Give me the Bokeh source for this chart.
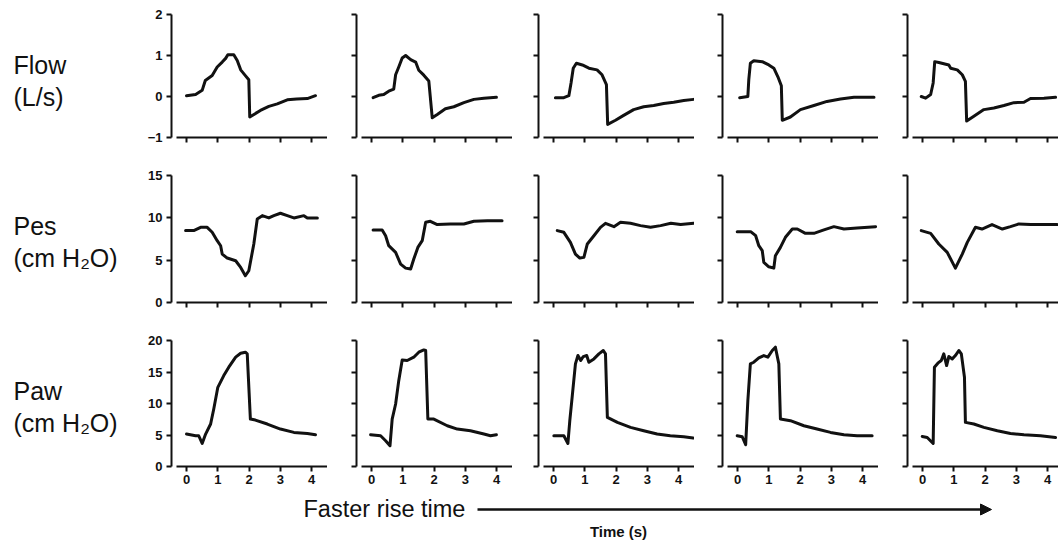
from bokeh.plotting import figure
from bokeh.layouts import row, column
from bokeh.models import Range1d, FixedTicker, Arrow, NormalHead, CustomJSTickFormatter
from bokeh.embed import file_html
from bokeh.resources import INLINE
from bokeh.core.properties import value

# ---------------- data ----------------
row_names = ["Flow", "Pes", "Paw"]
row_units = ["(L/s)", "(cm H\u2082O)", "(cm H\u2082O)"]
x_ticks = [0, 1, 2, 3, 4]
flow_ticks = [-1, 0, 1, 2]
pes_ticks = [0, 5, 10, 15]
paw_ticks = [0, 5, 10, 15, 20]

# Flow (L/s), five rise-time settings
flow1_t = [0, 0.29, 0.5, 0.6, 0.82, 0.98, 1.14, 1.25, 1.32, 1.51, 1.62, 1.73, 1.88, 1.99, 2.02, 2.36, 2.63, 2.9, 3.22, 3.52, 3.86, 4.12]
flow1_v = [0.02, 0.05, 0.15, 0.39, 0.51, 0.72, 0.84, 0.93, 1.02, 1.02, 0.88, 0.65, 0.51, 0.41, -0.5, -0.34, -0.24, -0.18, -0.08, -0.06, -0.05, 0.02]
flow2_t = [0.05, 0.23, 0.39, 0.55, 0.71, 0.77, 0.87, 0.98, 1.09, 1.25, 1.41, 1.51, 1.67, 1.83, 1.94, 2.1, 2.36, 2.63, 2.95, 3.27, 3.59, 3.99]
flow2_v = [-0.03, 0.03, 0.05, 0.13, 0.18, 0.53, 0.72, 0.94, 1.0, 0.9, 0.84, 0.64, 0.52, 0.38, -0.52, -0.44, -0.3, -0.25, -0.15, -0.07, -0.04, -0.02]
flow3_t = [0.06, 0.33, 0.49, 0.56, 0.63, 0.73, 0.92, 1.13, 1.39, 1.55, 1.69, 1.73, 1.98, 2.24, 2.56, 2.88, 3.2, 3.52, 3.84, 4.16, 4.48]
flow3_v = [-0.03, -0.03, 0.02, 0.33, 0.69, 0.81, 0.77, 0.69, 0.65, 0.53, 0.29, -0.68, -0.58, -0.46, -0.32, -0.25, -0.22, -0.17, -0.14, -0.1, -0.07]
flow4_t = [0.07, 0.33, 0.36, 0.41, 0.52, 0.79, 1.0, 1.16, 1.29, 1.4, 1.43, 1.69, 2.01, 2.44, 2.86, 3.29, 3.72, 4.36]
flow4_v = [-0.03, 0.0, 0.41, 0.81, 0.87, 0.85, 0.77, 0.69, 0.48, 0.26, -0.58, -0.5, -0.32, -0.22, -0.12, -0.06, -0.02, -0.02]
flow5_t = [-0.04, 0.1, 0.26, 0.34, 0.39, 0.52, 0.68, 0.84, 0.9, 1.11, 1.27, 1.37, 1.41, 1.64, 1.96, 2.28, 2.6, 2.92, 3.24, 3.45, 3.88, 4.25]
flow5_v = [0.0, -0.04, 0.05, 0.33, 0.85, 0.83, 0.8, 0.77, 0.69, 0.65, 0.53, 0.37, -0.6, -0.48, -0.32, -0.28, -0.22, -0.15, -0.14, -0.05, -0.04, -0.02]

# Pes (cm H2O)
pes1_t = [-0.03, 0.23, 0.45, 0.66, 0.82, 0.98, 1.09, 1.14, 1.3, 1.57, 1.73, 1.88, 1.99, 2.15, 2.26, 2.42, 2.63, 2.79, 3.0, 3.22, 3.43, 3.75, 3.86, 4.18]
pes1_v = [8.49, 8.49, 8.88, 8.88, 8.29, 7.3, 6.7, 5.72, 5.25, 4.93, 4.14, 3.16, 3.75, 6.91, 9.87, 10.26, 9.99, 10.26, 10.54, 10.26, 9.99, 10.26, 9.99, 9.99]
pes2_t = [0.05, 0.34, 0.45, 0.55, 0.77, 0.93, 1.09, 1.25, 1.35, 1.48, 1.62, 1.73, 1.88, 2.1, 2.52, 2.95, 3.27, 3.7, 4.17]
pes2_v = [8.57, 8.57, 7.89, 6.71, 5.92, 4.54, 4.06, 3.95, 5.13, 6.51, 7.3, 9.47, 9.59, 9.2, 9.28, 9.28, 9.59, 9.67, 9.67]
pes3_t = [0.12, 0.33, 0.54, 0.7, 0.84, 0.97, 1.08, 1.29, 1.5, 1.66, 1.93, 2.14, 2.46, 2.78, 3.1, 3.42, 3.75, 4.06, 4.48]
pes3_v = [8.49, 8.29, 7.1, 5.72, 5.25, 5.33, 6.91, 7.89, 8.88, 9.35, 8.96, 9.47, 9.35, 9.08, 8.88, 9.08, 9.35, 9.2, 9.35]
pes4_t = [-0.01, 0.42, 0.58, 0.68, 0.79, 0.84, 1.0, 1.16, 1.21, 1.37, 1.53, 1.75, 1.91, 2.17, 2.44, 2.76, 3.08, 3.4, 3.82, 4.41]
pes4_v = [8.37, 8.37, 7.89, 6.71, 6.12, 4.74, 4.22, 4.06, 5.53, 6.51, 7.7, 8.68, 8.68, 8.17, 8.17, 8.57, 8.96, 8.68, 8.8, 8.96]
pes5_t = [-0.04, 0.26, 0.52, 0.79, 1.05, 1.27, 1.43, 1.69, 1.9, 2.22, 2.55, 2.81, 3.08, 3.45, 3.88, 4.3]
pes5_v = [8.49, 8.17, 6.91, 5.92, 4.06, 5.72, 7.1, 8.88, 8.68, 9.2, 8.68, 8.96, 9.28, 9.2, 9.2, 9.2]

# Paw (cm H2O)
paw1_t = [0, 0.29, 0.39, 0.5, 0.61, 0.77, 0.87, 1.0, 1.19, 1.35, 1.57, 1.73, 1.88, 1.94, 2.04, 2.2, 2.58, 3.0, 3.43, 3.86, 4.12]
paw1_v = [5.15, 4.88, 4.88, 3.66, 5.15, 6.74, 9.12, 12.57, 14.43, 15.76, 17.35, 17.98, 18.14, 17.88, 7.53, 7.37, 6.74, 5.94, 5.41, 5.25, 5.04]
paw2_t = [-0.03, 0.29, 0.45, 0.59, 0.66, 0.77, 0.87, 0.98, 1.14, 1.35, 1.51, 1.67, 1.73, 1.8, 1.99, 2.42, 2.74, 3.16, 3.59, 3.8, 3.99]
paw2_v = [5.04, 4.88, 4.08, 3.29, 7.53, 9.92, 13.63, 16.92, 16.82, 17.35, 18.14, 18.51, 18.41, 7.53, 7.53, 6.47, 5.94, 5.68, 5.15, 4.88, 5.04]
paw3_t = [0.01, 0.33, 0.46, 0.52, 0.6, 0.7, 0.78, 0.87, 0.95, 1.06, 1.13, 1.29, 1.45, 1.59, 1.66, 1.72, 2.04, 2.46, 2.88, 3.31, 3.73, 4.16, 4.46]
paw3_v = [4.88, 4.88, 3.66, 7.27, 11.25, 16.29, 17.61, 16.82, 17.45, 17.61, 16.55, 17.08, 17.88, 18.41, 17.88, 7.8, 7.0, 6.21, 5.68, 5.15, 4.88, 4.72, 4.51]
paw4_t = [-0.01, 0.15, 0.26, 0.33, 0.41, 0.52, 0.68, 0.84, 0.97, 1.11, 1.21, 1.32, 1.37, 1.69, 2.12, 2.54, 2.97, 3.4, 3.82, 4.3]
paw4_v = [4.88, 4.72, 3.45, 10.45, 16.29, 16.55, 17.24, 17.61, 17.35, 18.41, 18.94, 16.29, 7.53, 7.27, 6.47, 5.94, 5.41, 5.04, 4.88, 4.88]
paw5_t = [-0.01, 0.15, 0.34, 0.38, 0.49, 0.6, 0.68, 0.77, 0.84, 0.95, 1.05, 1.16, 1.24, 1.34, 1.37, 1.64, 1.96, 2.39, 2.81, 3.24, 3.77, 4.25]
paw5_v = [4.77, 4.61, 3.66, 15.76, 16.4, 16.82, 17.88, 16.02, 17.45, 17.08, 17.61, 18.41, 17.88, 14.16, 7.0, 6.74, 6.21, 5.68, 5.25, 5.04, 4.88, 4.61]

series = [
    [(flow1_t, flow1_v), (flow2_t, flow2_v), (flow3_t, flow3_v), (flow4_t, flow4_v), (flow5_t, flow5_v)],
    [(pes1_t, pes1_v), (pes2_t, pes2_v), (pes3_t, pes3_v), (pes4_t, pes4_v), (pes5_t, pes5_v)],
    [(paw1_t, paw1_v), (paw2_t, paw2_v), (paw3_t, paw3_v), (paw4_t, paw4_v), (paw5_t, paw5_v)],
]

# ---------------- layout / style ----------------
PX_PER_S = 31.3
X_LEFT = -0.48
AXIS_START = -0.32
AXIS_END = 4.5
LABEL_W = 140
FRAME_W = [156, 156, 156, 156, 151]
BORDER_L = [31, 29, 26, 28, 29]
ROW_RANGE = [(-1, 2), (0, 15), (0, 20)]
ROW_TICKS = [flow_ticks, pes_ticks, paw_ticks]
ROW_TOP = [14, 19, 20]
ROW_FH = [123, 127, 126]
ROW_BOT = [19, 18, 29]
FRAME_TOP_ABS = [14, 175, 340]
TOTAL_H = 495

TICK_FONT = "Liberation Sans"
LABEL_FONT = "Liberation Sans"
INK = "#111111"

blank = CustomJSTickFormatter(code="return ''")


def panel(r, c):
    fw = FRAME_W[c]
    x_end = X_LEFT + fw / PX_PER_S
    lo, hi = ROW_RANGE[r]
    p = figure(frame_width=fw, frame_height=ROW_FH[r],
               x_range=Range1d(X_LEFT, x_end), y_range=Range1d(lo, hi),
               output_backend="svg", toolbar_location=None,
               min_border_left=BORDER_L[c], min_border_right=0,
               min_border_top=ROW_TOP[r], min_border_bottom=ROW_BOT[r],
               outline_line_color=None, background_fill_color="white",
               border_fill_color="white")
    p.grid.visible = False
    t, v = series[r][c]
    p.line(t, v, line_width=3, line_color=INK, line_join="round", line_cap="round")

    xa = p.xaxis[0]
    xa.ticker = FixedTicker(ticks=x_ticks)
    xa.bounds = (AXIS_START, min(AXIS_END, x_end))
    ya = p.yaxis[0]
    ya.ticker = FixedTicker(ticks=ROW_TICKS[r])
    for ax in (xa, ya):
        ax.axis_line_width = 2
        ax.axis_line_color = INK
        ax.major_tick_line_width = 2
        ax.major_tick_line_color = INK
        ax.major_tick_out = 5
        ax.major_tick_in = 0
        ax.minor_tick_line_color = None
        ax.major_label_text_font = TICK_FONT
        ax.major_label_text_font_size = "13px"
        ax.major_label_text_font_style = "bold"
        ax.major_label_text_color = INK
    ya.major_label_standoff = 4
    xa.major_label_standoff = 3
    if c > 0:
        ya.formatter = blank
    if r < 2:
        xa.formatter = blank
    return p


# row labels
lab = figure(width=LABEL_W, height=TOTAL_H, x_range=Range1d(0, LABEL_W),
             y_range=Range1d(TOTAL_H, 0), output_backend="svg",
             toolbar_location=None, x_axis_location=None, y_axis_location=None,
             min_border=0, outline_line_color=None)
lab.grid.visible = False
lab.text(x=[13] * 3, y=[t + 50 for t in FRAME_TOP_ABS], text=row_names,
         text_font=value(LABEL_FONT), text_font_size="25px", text_color=INK,
         text_baseline="alphabetic")
lab.text(x=[13] * 3, y=[t + 82 for t in FRAME_TOP_ABS], text=row_units,
         text_font=value(LABEL_FONT), text_font_size="25px", text_color=INK,
         text_baseline="alphabetic")

rows = []
for r in range(3):
    rows.append(row([panel(r, c) for c in range(5)], spacing=0))
grid = column(rows, spacing=0)
top = row([lab, grid], spacing=0)

# bottom: arrow + captions
BW, BH = 1058, 47
bot = figure(width=BW, height=BH, x_range=Range1d(0, BW), y_range=Range1d(BH, 0),
             output_backend="svg", toolbar_location=None,
             x_axis_location=None, y_axis_location=None,
             min_border=0, outline_line_color=None)
bot.grid.visible = False
bot.text(x=[303], y=[13], text=["Faster rise time"], text_font=value(LABEL_FONT),
         text_font_size="23.5px", text_color=INK, text_baseline="middle", text_align="left")
bot.text(x=[618], y=[36], text=["Time (s)"], text_font=value(TICK_FONT),
         text_font_size="15px", text_font_style="bold", text_color=INK,
         text_baseline="middle", text_align="center")
bot.add_layout(Arrow(end=NormalHead(size=11, fill_color=INK, line_color=INK),
                     x_start=477, y_start=14, x_end=991, y_end=14,
                     line_width=2.5, line_color=INK))

layout = column([top, bot], spacing=0)

open("out.html", "w").write(file_html(layout, INLINE))
